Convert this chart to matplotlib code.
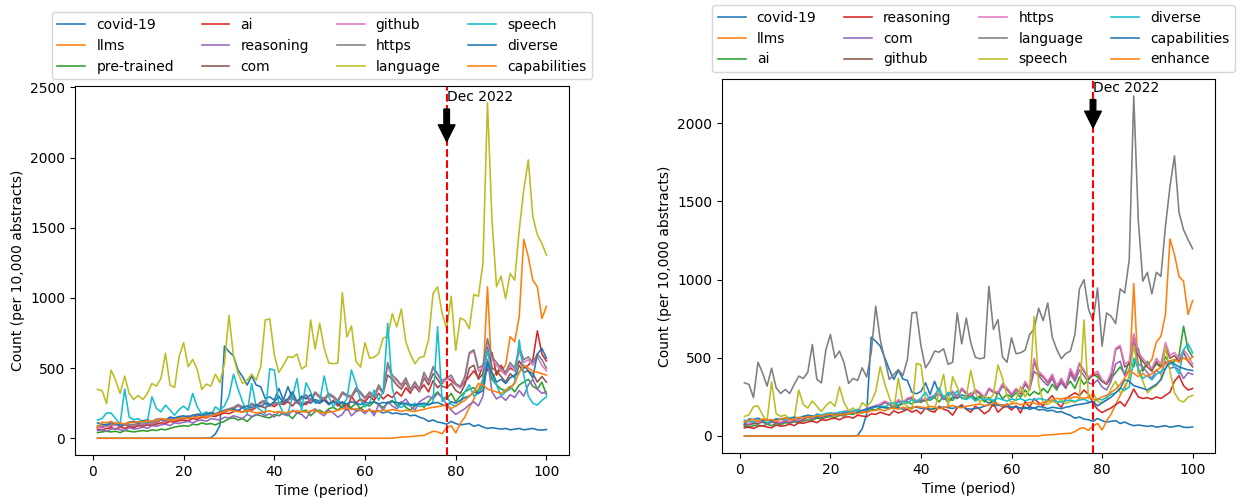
import matplotlib
matplotlib.use("Agg")
import matplotlib.pyplot as plt

periods = list(range(1, 101))
release_period = 78
release_label = "Dec 2022"

# ---------------- left panel: per-word counts per 10,000 abstracts ----------------
left_words = ["covid-19", "llms", "pre-trained", "ai", "reasoning", "com",
              "github", "https", "language", "speech", "diverse", "capabilities"]

L_covid = [0, 0, 0, 0, 0, 0, 0, 0, 0, 0,
           0, 0, 0, 0, 0, 0, 0, 0, 0, 0,
           0, 0, 0, 0, 1, 3, 30, 90, 657, 617,
           586, 486, 438, 379, 443, 379, 367, 283, 295, 271,
           355, 271, 367, 283, 260, 224, 260, 250, 275, 265,
           280, 250, 260, 240, 220, 240, 210, 200, 215, 190,
           200, 185, 195, 180, 190, 175, 180, 170, 175, 160,
           165, 150, 140, 120, 130, 115, 110, 100, 120, 105,
           95, 100, 105, 85, 95, 80, 70, 75, 70, 65,
           70, 60, 65, 70, 60, 65, 70, 60, 58, 62]
L_llms = [0, 0, 0, 0, 0, 0, 0, 0, 0, 0,
          0, 0, 0, 0, 0, 0, 0, 0, 0, 0,
          0, 0, 0, 0, 0, 0, 0, 0, 0, 0,
          0, 0, 0, 0, 0, 0, 0, 0, 0, 0,
          0, 0, 0, 0, 0, 0, 0, 0, 0, 0,
          0, 0, 0, 0, 0, 0, 0, 0, 0, 0,
          0, 0, 0, 0, 0, 0, 5, 8, 10, 12,
          15, 18, 20, 35, 50, 45, 32, 75, 90, 38,
          105, 150, 220, 280, 350, 420, 1079, 430, 470, 480,
          520, 724, 688, 867, 1417, 1293, 1126, 1079, 852, 940]
L_pretrained = [40, 45, 50, 45, 50, 40, 55, 50, 45, 50,
                55, 50, 60, 55, 65, 60, 70, 80, 85, 90,
                85, 100, 95, 110, 100, 105, 95, 110, 120, 140,
                145, 130, 140, 120, 150, 170, 160, 150, 145, 170,
                160, 180, 170, 140, 180, 190, 200, 160, 190, 200,
                180, 210, 220, 200, 230, 240, 220, 250, 210, 240,
                230, 260, 240, 220, 250, 270, 230, 260, 220, 200,
                230, 250, 220, 260, 300, 330, 290, 280, 320, 260,
                300, 330, 350, 360, 320, 380, 550, 420, 380, 350,
                340, 370, 330, 380, 400, 420, 370, 350, 400, 310]
L_ai = [65, 60, 70, 75, 65, 80, 70, 85, 75, 90,
        85, 95, 90, 100, 110, 105, 120, 115, 125, 130,
        125, 140, 135, 150, 145, 160, 155, 170, 180, 175,
        190, 200, 185, 210, 200, 220, 230, 215, 240, 225,
        250, 240, 260, 230, 270, 250, 240, 280, 260, 250,
        290, 240, 270, 230, 260, 200, 300, 250, 280, 260,
        300, 270, 320, 280, 310, 290, 330, 300, 360, 320,
        400, 340, 380, 330, 410, 360, 390, 430, 410, 380,
        360, 400, 440, 480, 430, 520, 480, 610, 450, 520,
        460, 500, 480, 550, 500, 520, 560, 765, 600, 550]
L_reasoning = [55, 60, 50, 65, 70, 60, 55, 75, 65, 70,
               80, 70, 90, 85, 95, 100, 90, 110, 105, 115,
               120, 110, 125, 130, 120, 140, 135, 130, 150, 145,
               160, 150, 140, 170, 155, 165, 180, 160, 175, 150,
               190, 170, 160, 200, 180, 170, 140, 190, 210, 180,
               160, 200, 180, 150, 170, 220, 160, 190, 200, 175,
               210, 160, 240, 200, 260, 230, 210, 250, 280, 230,
               200, 260, 280, 300, 280, 320, 290, 240, 200, 170,
               190, 210, 240, 260, 230, 300, 560, 330, 280, 300,
               270, 310, 290, 340, 300, 380, 420, 350, 320, 330]
L_com = [80, 75, 90, 85, 100, 80, 95, 90, 85, 100,
         90, 105, 100, 110, 130, 115, 140, 125, 135, 140,
         150, 140, 160, 165, 155, 175, 165, 180, 190, 200,
         210, 230, 215, 200, 240, 220, 250, 260, 230, 245,
         240, 260, 270, 290, 250, 280, 300, 260, 320, 290,
         270, 310, 290, 260, 320, 300, 290, 340, 320, 280,
         320, 290, 360, 320, 450, 420, 380, 350, 400, 330,
         370, 330, 430, 380, 460, 420, 370, 360, 390, 340,
         320, 380, 500, 520, 420, 460, 650, 500, 480, 440,
         400, 460, 430, 520, 470, 480, 460, 400, 440, 400]
L_github = [75, 80, 85, 90, 95, 85, 100, 95, 90, 105,
            95, 110, 105, 115, 135, 120, 145, 130, 140, 145,
            155, 145, 165, 170, 160, 180, 170, 185, 195, 205,
            215, 235, 220, 205, 245, 225, 255, 265, 235, 250,
            245, 265, 275, 295, 255, 285, 305, 265, 325, 295,
            275, 315, 295, 265, 325, 305, 295, 355, 325, 285,
            325, 295, 370, 325, 520, 430, 410, 370, 420, 340,
            390, 340, 450, 400, 500, 450, 400, 420, 430, 380,
            360, 420, 600, 620, 480, 500, 700, 560, 520, 480,
            450, 520, 480, 620, 540, 560, 520, 580, 520, 480]
L_https = [90, 85, 100, 95, 110, 90, 105, 100, 95, 110,
           100, 115, 110, 120, 140, 125, 150, 135, 145, 150,
           160, 150, 170, 175, 165, 185, 175, 190, 200, 210,
           220, 240, 225, 210, 250, 230, 260, 270, 240, 255,
           250, 270, 280, 300, 260, 290, 310, 270, 330, 300,
           280, 320, 300, 270, 330, 310, 300, 360, 330, 290,
           330, 300, 380, 330, 540, 450, 420, 380, 430, 350,
           400, 350, 470, 410, 510, 460, 410, 430, 450, 390,
           370, 440, 610, 630, 500, 520, 710, 580, 540, 500,
           470, 540, 500, 650, 560, 580, 540, 600, 560, 500]
L_language = [348, 340, 248, 486, 414, 319, 443, 319, 276, 305,
              276, 319, 390, 371, 426, 605, 379, 362, 581, 681,
              510, 562, 490, 348, 386, 371, 457, 395, 530, 876,
              581, 462, 390, 414, 457, 414, 510, 843, 850, 593,
              469, 521, 581, 576, 600, 493, 514, 843, 636, 819,
              640, 536, 531, 536, 1038, 721, 800, 548, 507, 681,
              571, 578, 602, 714, 726, 888, 793, 921, 686, 598,
              531, 574, 583, 702, 1031, 1079, 888, 781, 1012, 626,
              857, 840, 781, 1024, 1012, 1245, 2390, 1550, 1079, 1155,
              995, 1174, 1126, 1483, 1769, 1983, 1578, 1448, 1388, 1305]
L_speech = [130, 140, 180, 180, 140, 100, 350, 150, 133, 140,
            117, 117, 295, 212, 188, 236, 200, 164, 205, 229,
            200, 319, 224, 171, 188, 157, 224, 200, 230, 300,
            457, 350, 260, 176, 390, 224, 200, 176, 495, 486,
            248, 176, 176, 295, 426, 200, 395, 331, 250, 260,
            443, 296, 225, 272, 240, 280, 486, 390, 272, 224,
            250, 343, 272, 330, 819, 360, 230, 220, 240, 230,
            250, 225, 240, 235, 260, 795, 260, 300, 240, 230,
            250, 330, 380, 300, 320, 420, 629, 450, 380, 300,
            330, 350, 400, 700, 450, 300, 250, 236, 270, 295]
L_diverse = [110, 100, 95, 110, 105, 90, 100, 115, 120, 110,
             125, 130, 120, 135, 140, 130, 150, 145, 155, 160,
             150, 165, 170, 160, 175, 180, 170, 185, 190, 200,
             210, 195, 220, 230, 215, 240, 225, 250, 235, 260,
             300, 250, 280, 330, 260, 300, 280, 310, 260, 250,
             270, 240, 260, 250, 255, 245, 260, 250, 240, 255,
             250, 260, 245, 255, 250, 260, 255, 245, 250, 240,
             235, 245, 250, 240, 250, 255, 240, 230, 260, 250,
             270, 290, 300, 330, 320, 340, 540, 470, 400, 420,
             390, 430, 450, 470, 520, 480, 430, 600, 640, 570]
L_capabilities = [80, 115, 110, 120, 105, 110, 100, 115, 110, 120,
                  115, 125, 120, 130, 140, 135, 125, 130, 140, 145,
                  140, 150, 145, 155, 150, 160, 170, 180, 190, 200,
                  195, 190, 185, 195, 190, 180, 185, 190, 195, 185,
                  190, 180, 185, 190, 195, 190, 185, 195, 200, 185,
                  180, 185, 190, 200, 210, 215, 205, 210, 200, 195,
                  200, 195, 190, 200, 195, 205, 200, 190, 200, 195,
                  190, 200, 205, 215, 220, 225, 230, 240, 210, 230,
                  250, 270, 300, 330, 390, 380, 350, 340, 330, 320,
                  340, 360, 390, 470, 520, 500, 480, 470, 460, 450]

left_series = [L_covid, L_llms, L_pretrained, L_ai, L_reasoning, L_com,
               L_github, L_https, L_language, L_speech, L_diverse, L_capabilities]

# ---------------- right panel ----------------
right_words = ["covid-19", "llms", "ai", "reasoning", "com", "github",
               "https", "language", "speech", "diverse", "capabilities", "enhance"]

R_covid = [0, 0, 0, 0, 0, 0, 0, 0, 0, 0,
           0, 0, 0, 0, 0, 0, 0, 0, 0, 0,
           0, 0, 0, 0, 1, 3, 45, 140, 632, 606,
           575, 500, 425, 362, 420, 365, 355, 280, 270, 285,
           340, 265, 350, 275, 250, 215, 250, 240, 262, 255,
           265, 240, 248, 228, 210, 228, 200, 190, 205, 180,
           190, 176, 185, 170, 180, 166, 170, 160, 165, 152,
           156, 142, 132, 113, 122, 108, 104, 94, 112, 98,
           89, 94, 98, 80, 89, 75, 66, 70, 66, 61,
           66, 56, 61, 66, 56, 61, 66, 56, 54, 58]
R_llms = [0, 0, 0, 0, 0, 0, 0, 0, 0, 0,
          0, 0, 0, 0, 0, 0, 0, 0, 0, 0,
          0, 0, 0, 0, 0, 0, 0, 0, 0, 0,
          0, 0, 0, 0, 0, 0, 0, 0, 0, 0,
          0, 0, 0, 0, 0, 0, 0, 0, 0, 0,
          0, 0, 0, 0, 0, 0, 0, 0, 0, 0,
          0, 0, 0, 0, 0, 0, 5, 7, 9, 11,
          14, 16, 17, 28, 47, 53, 36, 64, 80, 38,
          96, 140, 200, 260, 320, 370, 975, 400, 430, 450,
          490, 600, 638, 777, 1260, 1160, 1021, 990, 777, 866]
R_ai = [62, 57, 66, 71, 62, 76, 66, 81, 71, 85,
        81, 90, 85, 95, 104, 100, 114, 109, 119, 124,
        119, 133, 128, 142, 138, 152, 147, 161, 171, 166,
        180, 190, 176, 200, 190, 209, 218, 204, 228, 214,
        238, 228, 247, 218, 256, 238, 228, 266, 247, 238,
        275, 228, 256, 218, 247, 190, 285, 238, 266, 247,
        276, 248, 294, 258, 285, 267, 304, 276, 331, 294,
        368, 313, 350, 304, 377, 331, 359, 396, 377, 350,
        331, 368, 405, 442, 396, 478, 442, 561, 414, 478,
        423, 460, 442, 506, 460, 478, 515, 702, 552, 506]
R_reasoning = [52, 57, 48, 62, 66, 57, 52, 71, 62, 66,
               76, 66, 85, 81, 90, 95, 85, 104, 100, 109,
               114, 104, 119, 123, 114, 133, 128, 123, 142, 138,
               152, 142, 133, 161, 147, 157, 171, 152, 166, 142,
               180, 161, 152, 190, 171, 161, 133, 180, 200, 171,
               152, 190, 171, 142, 161, 209, 152, 180, 190, 166,
               193, 147, 221, 184, 239, 212, 193, 230, 258, 212,
               184, 239, 258, 276, 258, 294, 267, 210, 170, 150,
               165, 180, 200, 220, 190, 240, 300, 250, 240, 245,
               235, 250, 240, 260, 280, 350, 386, 322, 294, 304]
R_com = [74, 70, 84, 79, 93, 74, 88, 84, 79, 93,
         84, 98, 93, 102, 121, 107, 130, 116, 126, 130,
         140, 130, 149, 153, 144, 163, 153, 167, 177, 186,
         195, 214, 200, 186, 223, 205, 233, 242, 214, 228,
         223, 242, 251, 270, 233, 260, 279, 242, 298, 270,
         251, 288, 270, 242, 298, 279, 270, 316, 298, 260,
         294, 267, 331, 294, 414, 386, 350, 322, 368, 304,
         340, 304, 396, 350, 423, 386, 340, 331, 359, 313,
         294, 350, 460, 478, 386, 423, 598, 460, 442, 405,
         368, 423, 396, 478, 432, 442, 423, 368, 405, 394]
R_github = [70, 74, 79, 84, 88, 79, 93, 88, 84, 98,
            88, 102, 98, 107, 126, 112, 135, 121, 130, 135,
            144, 135, 153, 158, 149, 167, 158, 172, 181, 191,
            200, 219, 205, 191, 228, 209, 237, 246, 219, 233,
            228, 246, 256, 274, 237, 265, 284, 246, 302, 274,
            256, 293, 274, 246, 302, 284, 274, 330, 302, 265,
            299, 271, 340, 299, 478, 396, 377, 340, 386, 313,
            359, 313, 414, 368, 460, 414, 368, 386, 396, 350,
            331, 386, 552, 570, 442, 460, 644, 515, 478, 442,
            414, 478, 442, 570, 497, 515, 478, 534, 478, 442]
R_https = [84, 79, 93, 88, 102, 84, 98, 93, 88, 102,
           93, 107, 102, 112, 130, 116, 140, 126, 135, 140,
           149, 140, 158, 163, 153, 172, 163, 177, 186, 195,
           205, 223, 209, 195, 233, 214, 242, 251, 223, 237,
           233, 251, 260, 279, 242, 270, 288, 251, 307, 279,
           260, 298, 279, 251, 307, 288, 279, 335, 307, 270,
           304, 276, 350, 304, 497, 414, 386, 350, 396, 322,
           368, 322, 432, 377, 469, 423, 377, 396, 414, 359,
           340, 405, 561, 580, 460, 478, 653, 534, 497, 460,
           432, 497, 460, 598, 515, 534, 497, 552, 515, 460]
R_language = [340, 330, 245, 472, 404, 319, 434, 309, 272, 298,
              272, 330, 383, 368, 408, 585, 362, 340, 553, 649,
              500, 543, 468, 336, 368, 355, 436, 377, 532, 830,
              617, 489, 362, 394, 425, 387, 489, 787, 792, 575,
              436, 479, 543, 536, 558, 458, 472, 787, 589, 755,
              596, 504, 494, 500, 958, 681, 745, 506, 472, 628,
              526, 532, 549, 649, 685, 817, 738, 851, 632, 553,
              494, 528, 543, 649, 941, 1000, 813, 734, 947, 575,
              787, 766, 719, 941, 915, 1128, 2175, 1383, 990, 1047,
              909, 1047, 1021, 1341, 1596, 1792, 1430, 1319, 1256, 1198]
R_speech = [125, 135, 188, 192, 135, 95, 347, 143, 126, 133,
            111, 111, 294, 201, 179, 224, 190, 156, 195, 218,
            190, 315, 213, 162, 179, 149, 213, 190, 218, 285,
            443, 333, 247, 167, 369, 213, 190, 167, 465, 454,
            236, 167, 167, 280, 394, 190, 379, 314, 238, 247,
            421, 281, 214, 258, 228, 266, 454, 370, 258, 213,
            230, 316, 250, 304, 763, 331, 212, 202, 221, 212,
            230, 207, 221, 216, 239, 742, 239, 276, 221, 212,
            230, 304, 350, 276, 294, 386, 579, 414, 350, 276,
            304, 322, 368, 570, 414, 276, 230, 217, 248, 260]
R_diverse = [102, 93, 88, 102, 98, 84, 93, 107, 112, 102,
             116, 121, 112, 126, 130, 121, 140, 135, 144, 149,
             140, 153, 158, 149, 163, 167, 158, 172, 177, 186,
             195, 181, 205, 214, 200, 223, 209, 233, 219, 242,
             279, 233, 260, 307, 242, 279, 260, 288, 242, 233,
             251, 223, 242, 233, 237, 228, 242, 233, 223, 237,
             230, 239, 225, 235, 230, 239, 235, 225, 230, 221,
             216, 225, 230, 221, 230, 235, 221, 212, 239, 230,
             248, 267, 276, 304, 294, 313, 497, 432, 368, 386,
             359, 396, 414, 432, 478, 442, 396, 552, 589, 532]
R_capabilities = [76, 109, 105, 114, 100, 105, 95, 109, 105, 114,
                  109, 119, 114, 124, 133, 128, 119, 124, 133, 138,
                  133, 143, 138, 147, 143, 152, 162, 171, 181, 190,
                  185, 181, 176, 185, 181, 171, 176, 181, 185, 176,
                  181, 171, 176, 181, 185, 181, 176, 185, 190, 176,
                  171, 176, 181, 190, 200, 204, 195, 200, 190, 185,
                  184, 179, 175, 184, 179, 189, 184, 175, 184, 179,
                  175, 184, 189, 198, 202, 207, 212, 221, 193, 212,
                  230, 248, 276, 304, 359, 350, 322, 313, 304, 294,
                  313, 331, 359, 432, 478, 460, 442, 432, 423, 419]
R_enhance = [90, 100, 105, 95, 110, 100, 105, 95, 110, 115,
             105, 110, 120, 115, 125, 120, 130, 125, 135, 140,
             130, 140, 135, 145, 150, 140, 155, 150, 160, 165,
             170, 160, 175, 180, 170, 185, 175, 180, 190, 185,
             180, 190, 185, 175, 180, 190, 195, 185, 180, 190,
             195, 200, 205, 195, 200, 210, 205, 195, 200, 205,
             210, 200, 205, 215, 210, 200, 215, 220, 230, 240,
             235, 245, 240, 250, 245, 240, 250, 235, 230, 250,
             260, 280, 300, 330, 370, 420, 400, 380, 400, 380,
             400, 420, 440, 460, 480, 490, 470, 500, 480, 506]

right_series = [R_covid, R_llms, R_ai, R_reasoning, R_com, R_github,
                R_https, R_language, R_speech, R_diverse, R_capabilities, R_enhance]

# arrow annotation heights (data units) for each panel
left_arrow = (2100, 2400)
right_arrow = (1960, 2200)

fig = plt.figure(figsize=(12.44, 4.98), dpi=100)
ax_left = fig.add_axes([0.0603, 0.0863, 0.397, 0.741])
ax_right = fig.add_axes([0.5804, 0.0904, 0.3963, 0.751])


def draw_panel(ax, words, series, arrow, legend_x):
    for word, values in zip(words, series):
        ax.plot(periods, values, label=word, linewidth=1.15)
    ax.axvline(release_period, color="red", linestyle="--", linewidth=1.5)
    ax.annotate(release_label, xy=(release_period, arrow[0]),
                xytext=(release_period, arrow[1]),
                arrowprops=dict(facecolor="black", shrink=0.05))
    ax.set_xlabel("Time (period)")
    ax.set_ylabel("Count (per 10,000 abstracts)")
    ax.legend(loc="lower center", bbox_to_anchor=(legend_x, 1.0), ncol=4)


draw_panel(ax_left, left_words, left_series, left_arrow, 0.5)
draw_panel(ax_right, right_words, right_series, right_arrow, 0.51)

fig.savefig("out.png", dpi=100)
